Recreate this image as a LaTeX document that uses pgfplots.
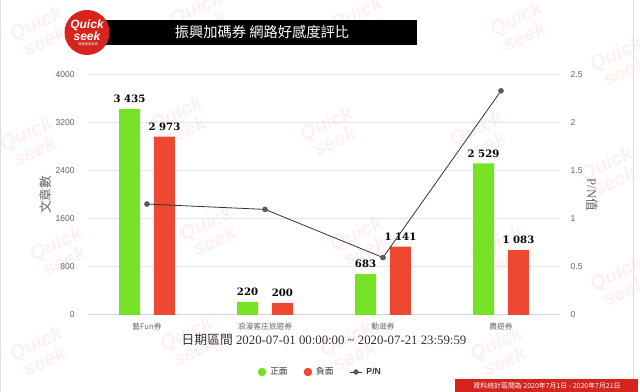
\documentclass[border=0pt]{standalone}
\usepackage{fontspec}
\setmainfont{Liberation Serif}
\newfontfamily\cjk{Noto Sans CJK TC}
\newfontfamily\dvs{DejaVu Serif}
\newfontfamily\sans{Liberation Sans}
\usepackage{pgfplots}
\pgfplotsset{compat=1.18}
\definecolor{pgreen}{RGB}{118,226,38}
\definecolor{nred}{RGB}{238,72,50}
\definecolor{lineg}{RGB}{51,51,51}
\definecolor{markg}{RGB}{90,90,90}
\definecolor{tickgray}{RGB}{102,102,102}
\definecolor{gridg}{RGB}{230,230,230}
\definecolor{axisline}{RGB}{204,214,235}
\definecolor{logored}{RGB}{214,35,30}
\begin{document}
\begin{tikzpicture}
\useasboundingbox (0pt,0pt) rectangle (480pt,294pt);
\begin{scope}[x=0.75pt,y=0.75pt]
\path[fill=white] (0,0) rectangle (640,392);
% watermarks
\begin{scope}
\clip (0,0) rectangle (640,392);
\foreach \wx/\wy in {40/360,200/375,360/370,520/365,620/330,30/250,180/270,330/260,480/255,610/220,60/140,210/160,360/150,500/140,620/110,40/40,190/50,350/45,500/40}{
  \node[rotate=25,text=red,opacity=0.06,font=\sans\bfseries\itshape\fontsize{15}{12}\selectfont,align=center] at (\wx,\wy) {Quick\\seek};
}
\end{scope}
\draw[gray!25,line width=0.75pt] (0.5,0) -- (0.5,392);
\draw[gray!25,line width=0.75pt] (633,0) -- (633,392);
% title
\fill[black] (100,347) rectangle (417,372);
\node[text=white,font=\cjk\fontsize{10.7}{12}\selectfont] at (262,359.5) {振興加碼券 網路好感度評比};
\fill[logored] (87,359.5) circle (22.5);
\node[white,font=\sans\bfseries\itshape\fontsize{9}{7}\selectfont,align=center] at (87,362) {Quick\\seek};
\node[white,font=\cjk\fontsize{2.5}{3}\selectfont] at (88,348) {快速搜尋系統};
% bottom right note
\fill[logored] (455,0) rectangle (638,13);
\node[white,font=\cjk\fontsize{5.2}{6}\selectfont] at (547,6.5) {資料統計區間為 2020年7月1日 - 2020年7月21日};
\end{scope}
\begin{axis}[at={(66pt,57.75pt)},anchor=south west,width=354pt,height=180pt,scale only axis,
  ybar=10.45pt, bar width=15.75pt,
  xmin=-0.5,xmax=3.5,ymin=0,ymax=4000,
  ytick={0,800,1600,2400,3200,4000},
  xtick={0,1,2,3},
  xticklabels={藝Fun券,浪漫客庄旅遊券,動滋券,農遊券},
  axis x line*=bottom, axis y line*=left,
  x axis line style={draw=axisline,line width=0.75pt,-},
  y axis line style={draw=none},
  major tick length=0pt,
  ymajorgrids, grid style={draw=gridg,line width=0.75pt},
  /pgf/number format/assume math mode=true,
  /pgf/number format/1000 sep={},
  yticklabel style={font=\sans\fontsize{6.4}{7}\selectfont,text=tickgray,xshift=-6.5pt},
  xticklabel style={font=\cjk\fontsize{5.8}{7}\selectfont,text=tickgray,yshift=-2.5pt},
  xlabel={{\cjk 日期區間} 2020-07-01 00:00:00 \textasciitilde{} 2020-07-21 23:59:59},
  xlabel style={font=\fontsize{9.6}{10}\selectfont,text=lineg,at={(axis description cs:0.5,-0.104)},anchor=center},
  ylabel={文章數},
  ylabel style={font=\cjk\fontsize{9.5}{10}\selectfont,text=tickgray,at={(axis description cs:-0.089,0.5)},anchor=center},
  legend columns=3,
  legend style={draw=none,fill=none,at={(axis description cs:0.493,-0.2375)},anchor=center,
    font=\cjk\fontsize{6.5}{7}\selectfont,text=lineg,
    /tikz/every odd column/.append style={column sep=1pt},
    /tikz/every even column/.append style={column sep=10pt}},
  nodes near coords={\pgfmathprintnumber[1000 sep={\ },assume math mode=true]{\pgfplotspointmeta}},
  every node near coord/.append style={font=\dvs\bfseries\fontsize{7.6}{8}\selectfont,text=black,yshift=1pt},
  clip=false,
]
\addplot[fill=pgreen,draw=none,
  legend image code/.code={\fill[pgreen] (0.12cm,0cm) circle (3.2pt);}]
  coordinates {(0,3435) (1,220) (2,683) (3,2529)};
\addlegendentry{正面}
\addplot[fill=nred,draw=none,
  legend image code/.code={\fill[nred] (0.12cm,0cm) circle (3.2pt);}]
  coordinates {(0,2973) (1,200) (2,1141) (3,1083)};
\addlegendentry{負面}
\addlegendimage{legend image code/.code={\draw[lineg,line width=0.6pt] (0cm,0cm) -- (0.32cm,0cm); \fill[markg] (0.16cm,0cm) circle (1.8pt);}}
\addlegendentry{\sans\bfseries P/N}
\end{axis}
\begin{axis}[at={(66pt,57.75pt)},anchor=south west,width=354pt,height=180pt,scale only axis,
  xmin=-0.5,xmax=3.5,ymin=0,ymax=2.5,
  ytick={0,0.5,1,1.5,2,2.5},
  axis x line=none, axis y line*=right,
  y axis line style={draw=none},
  major tick length=0pt,
  /pgf/number format/assume math mode=true,
  yticklabel style={font=\sans\fontsize{6.4}{7}\selectfont,text=tickgray,xshift=4.5pt},
  clip=false,
]
\addplot[lineg,line width=0.6pt,mark=*,mark size=1.8pt,mark options={fill=markg,draw=markg}]
  coordinates {(0,1.1554) (1,1.1) (2,0.5986) (3,2.3352)};
\node[rotate=-90,font=\fontsize{9.5}{10}\selectfont,text=tickgray] at (rel axis cs:1.068,0.5) {P/N{\cjk 值}};
\end{axis}
\end{tikzpicture}
\end{document}
